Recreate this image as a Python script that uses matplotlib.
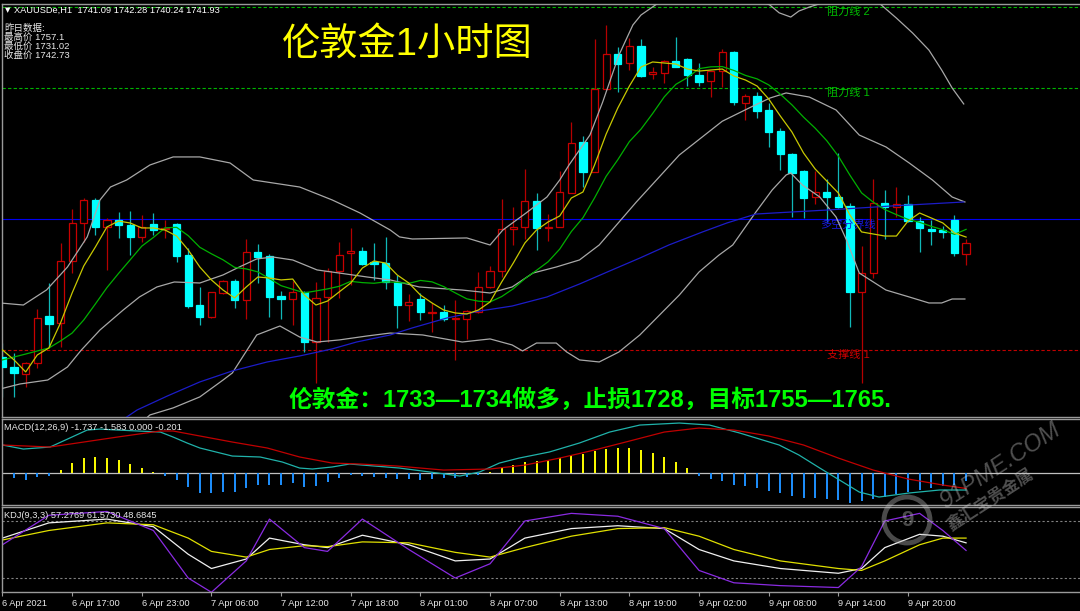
import matplotlib
matplotlib.use("Agg")
import matplotlib.pyplot as plt
from matplotlib.patches import Rectangle, Ellipse

plt.rcParams['font.family'] = ['Liberation Sans', 'Noto Sans CJK SC', 'DejaVu Sans']

# ---- price data (XAUUSD H1, 84 bars) ----
opens = [1733.03, 1732.25, 1731.70, 1732.56, 1736.23, 1735.69, 1740.53, 1743.50, 1745.30, 1743.19,
         1743.73, 1743.34, 1742.41, 1743.42, 1743.03, 1743.42, 1741.00, 1737.09, 1736.16, 1738.03,
         1738.97, 1737.48, 1741.23, 1740.92, 1737.80, 1737.56, 1738.11, 1734.20, 1737.72, 1739.75,
         1741.16, 1741.31, 1740.45, 1740.38, 1738.89, 1737.09, 1737.56, 1736.47, 1736.55, 1736.00,
         1736.00, 1736.55, 1738.50, 1739.75, 1743.03, 1743.19, 1745.22, 1743.11, 1743.19, 1745.84,
         1749.83, 1747.48, 1753.97, 1756.70, 1756.00, 1757.33, 1755.14, 1755.22, 1756.16, 1756.31,
         1755.06, 1754.59, 1755.38, 1756.86, 1752.88, 1753.42, 1752.33, 1750.69, 1748.89, 1747.56,
         1745.53, 1745.92, 1745.53, 1744.83, 1738.11, 1739.59, 1745.06, 1744.75, 1744.98, 1743.66,
         1743.03, 1742.95, 1743.73, 1741.09]
highs = [1734.13, 1733.34, 1732.64, 1736.78, 1738.81, 1741.94, 1744.59, 1745.45, 1745.45, 1743.89,
         1744.36, 1744.44, 1744.13, 1744.28, 1743.73, 1743.50, 1741.55, 1738.50, 1738.11, 1739.05,
         1739.13, 1742.25, 1741.86, 1741.08, 1738.19, 1738.97, 1738.20, 1738.89, 1739.98, 1742.02,
         1743.11, 1741.63, 1741.94, 1742.41, 1739.44, 1737.95, 1738.03, 1737.25, 1737.09, 1737.48,
         1736.70, 1739.67, 1740.14, 1745.38, 1744.75, 1747.72, 1745.84, 1744.20, 1747.56, 1751.39,
         1750.30, 1757.88, 1758.97, 1757.25, 1757.95, 1757.88, 1755.69, 1756.23, 1758.03, 1756.40,
         1756.00, 1755.38, 1757.10, 1756.95, 1753.58, 1753.73, 1752.88, 1750.92, 1748.97, 1747.64,
         1747.56, 1746.94, 1748.97, 1745.06, 1741.70, 1746.94, 1746.08, 1746.31, 1745.69, 1743.97,
         1743.73, 1743.27, 1744.13, 1742.28]
lows = [1729.91, 1729.91, 1730.69, 1732.17, 1733.81, 1733.81, 1739.59, 1742.02, 1742.56, 1739.83,
        1742.33, 1741.00, 1742.02, 1742.56, 1742.33, 1740.45, 1736.86, 1735.53, 1736.08, 1737.95,
        1736.86, 1736.00, 1738.81, 1736.16, 1736.00, 1735.53, 1733.42, 1731.00, 1734.20, 1737.64,
        1738.66, 1740.22, 1739.05, 1738.34, 1735.30, 1735.84, 1735.92, 1734.98, 1735.84, 1732.80,
        1734.44, 1736.47, 1738.42, 1739.28, 1741.78, 1742.25, 1741.39, 1742.09, 1743.19, 1745.84,
        1746.31, 1747.48, 1753.97, 1753.73, 1755.45, 1754.91, 1754.75, 1754.44, 1755.69, 1754.20,
        1754.20, 1753.34, 1754.13, 1752.72, 1751.55, 1751.70, 1749.44, 1747.64, 1743.97, 1743.89,
        1744.98, 1743.58, 1744.67, 1735.38, 1731.02, 1739.20, 1742.25, 1743.97, 1743.58, 1741.23,
        1741.78, 1742.33, 1740.92, 1740.24]
closes = [1732.25, 1731.78, 1732.56, 1736.08, 1735.61, 1740.53, 1743.50, 1745.30, 1743.19, 1743.73,
          1743.34, 1742.41, 1743.19, 1742.95, 1743.11, 1740.92, 1737.02, 1736.16, 1738.11, 1738.97,
          1737.48, 1741.23, 1740.84, 1737.72, 1737.56, 1738.11, 1734.20, 1737.64, 1739.75, 1741.00,
          1741.31, 1740.30, 1740.30, 1738.89, 1737.09, 1737.33, 1736.55, 1736.55, 1736.00, 1736.08,
          1736.63, 1738.50, 1739.75, 1743.03, 1743.19, 1745.22, 1743.11, 1743.19, 1745.92, 1749.75,
          1747.48, 1753.97, 1756.70, 1755.92, 1757.33, 1754.98, 1755.30, 1756.16, 1755.69, 1755.06,
          1754.52, 1755.38, 1756.86, 1752.95, 1753.42, 1752.25, 1750.61, 1748.89, 1747.41, 1745.45,
          1745.92, 1745.53, 1744.75, 1738.11, 1739.59, 1745.06, 1744.75, 1744.98, 1743.66, 1743.11,
          1742.88, 1742.80, 1741.16, 1741.93]

# moving averages
ma_fast = [1733.58, 1732.80, 1731.86, 1733.19, 1733.73, 1735.69, 1738.03, 1740.14, 1741.62, 1743.19,
           1743.65, 1743.50, 1743.11, 1743.11, 1742.95, 1742.48, 1741.39, 1740.06, 1739.05, 1738.26,
           1737.64, 1738.50, 1739.28, 1739.20, 1739.05, 1739.12, 1737.87, 1737.09, 1737.40, 1738.11,
           1738.81, 1739.98, 1740.53, 1740.37, 1739.44, 1738.81, 1737.87, 1737.25, 1736.70, 1736.47,
           1736.39, 1736.70, 1737.33, 1738.89, 1740.37, 1741.94, 1742.95, 1743.58, 1744.05, 1745.45,
           1745.92, 1748.03, 1750.45, 1752.48, 1754.20, 1755.69, 1756.08, 1756.00, 1755.92, 1755.53,
           1755.37, 1755.45, 1755.53, 1754.98, 1754.67, 1754.20, 1753.19, 1751.86, 1750.61, 1748.97,
           1747.72, 1746.78, 1745.84, 1744.12, 1742.80, 1742.64, 1742.48, 1742.48, 1743.65, 1744.28,
           1743.89, 1743.50, 1742.72, 1742.40]
ma_slow = [1732.80, 1733.03, 1733.26, 1733.50, 1733.73, 1734.28, 1734.90, 1735.92, 1737.17, 1738.45,
           1739.56, 1740.62, 1741.69, 1742.37, 1743.12, 1743.16, 1742.51, 1741.60, 1741.09, 1740.62,
           1740.03, 1739.91, 1739.68, 1739.15, 1738.60, 1738.32, 1738.04, 1738.19, 1738.35, 1738.55,
           1738.94, 1738.84, 1738.79, 1738.90, 1738.86, 1738.78, 1739.01, 1738.90, 1738.53, 1738.04,
           1737.57, 1737.39, 1737.33, 1737.75, 1738.36, 1739.15, 1739.80, 1740.47, 1741.46, 1742.83,
           1743.91, 1745.46, 1747.15, 1748.44, 1749.86, 1750.83, 1752.05, 1753.35, 1754.33, 1754.86,
           1755.56, 1755.70, 1755.72, 1755.42, 1755.03, 1754.76, 1754.29, 1753.56, 1752.73, 1751.77,
           1750.91, 1749.93, 1748.72, 1747.23, 1745.85, 1745.13, 1744.55, 1744.15, 1743.78, 1743.55,
           1743.24, 1742.97, 1742.61, 1743.00]

# bollinger bands (sampled along bar index)
bb_mid_x = [-0.2, 1.5, 3.9, 5.6, 6.8, 8.4, 10.4, 11.8, 13.3, 14.8, 17.0, 19.0, 20.4, 21.9, 23.3, 25.0,
            27.1, 29.0, 31.4, 33.4, 35.9, 39.6, 42.0, 43.9, 45.7, 47.7, 49.7, 51.4, 54.6, 58.3, 62.0,
            64.3, 66.1, 67.5, 69.5, 71.8, 73.8, 76.1, 78.1, 80.1, 81.8, 82.9]
bb_mid = [1730.53, 1730.92, 1731.23, 1732.25, 1733.58, 1735.14, 1736.70, 1737.72, 1738.50, 1738.89,
          1738.81, 1739.44, 1740.06, 1740.69, 1740.84, 1740.61, 1739.83, 1739.59, 1739.28, 1739.05,
          1738.50, 1738.26, 1738.03, 1738.50, 1739.59, 1740.06, 1740.61, 1741.78, 1745.14, 1748.81,
          1751.45, 1752.48, 1753.26, 1753.66, 1753.34, 1752.33, 1750.37, 1749.44, 1748.19, 1746.86,
          1745.53, 1745.14]
bb_up_x = [-0.2, 1.8, 3.8, 5.6, 7.3, 8.4, 9.3, 10.7, 12.7, 14.7, 17.0, 19.6, 21.6, 25.6, 28.4, 30.8,
           33.4, 34.2, 35.3, 40.0, 42.0, 43.1, 45.1, 46.9, 48.0, 48.8, 50.6, 51.7, 53.1, 54.3, 55.0,
           56.6, 60.0, 63.5, 66.1, 66.9, 67.9, 68.6, 69.5, 70.6, 72.9, 75.5, 77.0, 78.4, 79.8, 80.9,
           81.8, 82.8]
bb_up = [1737.25, 1737.09, 1738.27, 1740.06, 1742.41, 1745.30, 1746.31, 1746.86, 1748.03, 1748.66,
         1748.66, 1748.19, 1746.86, 1746.31, 1745.30, 1744.28, 1742.95, 1742.41, 1742.25, 1742.33,
         1741.78, 1742.95, 1744.28, 1745.53, 1746.86, 1748.03, 1750.37, 1752.95, 1756.62, 1758.97,
         1759.75, 1760.76, 1761.31, 1761.55, 1760.53, 1759.92, 1759.59, 1760.06, 1760.37, 1760.69,
         1761.15, 1760.69, 1759.51, 1758.34, 1757.01, 1755.45, 1754.05, 1752.80]
bb_low_x = [-0.2, 4.1, 8.4, 10.7, 12.7, 14.7, 17.0, 19.0, 19.8, 21.9, 23.9, 25.6, 27.1, 29.0, 31.4,
            33.4, 36.2, 39.6, 42.0, 43.9, 44.8, 46.0, 47.7, 48.6, 49.7, 51.4, 53.1, 54.9, 56.6, 58.3,
            60.0, 61.7, 62.9, 64.9, 66.3, 67.5, 67.9, 68.9, 70.4, 71.8, 72.7, 73.8, 76.1, 78.1, 79.8,
            80.9, 81.8, 82.9]
bb_low = [1723.81, 1724.83, 1724.98, 1726.86, 1728.50, 1729.05, 1729.91, 1731.23, 1731.78, 1734.75,
          1735.45, 1734.59, 1734.20, 1734.36, 1734.67, 1734.90, 1734.75, 1734.20, 1734.44, 1733.97,
          1733.50, 1734.12, 1734.12, 1733.42, 1732.80, 1732.64, 1733.42, 1734.75, 1736.31, 1737.87,
          1739.67, 1740.98, 1741.78, 1744.36, 1746.08, 1747.25, 1747.41, 1746.47, 1745.53, 1743.97,
          1742.17, 1739.59, 1738.26, 1737.72, 1737.25, 1737.25, 1737.56, 1737.56]

# long moving average (blue)
ma_long_x = [9.3, 11.6, 14.2, 17.0, 19.8, 22.8, 25.6, 28.4, 30.5, 33.4, 35.3, 38.3, 41.1, 43.9, 46.9,
             49.7, 52.3, 54.9, 57.4, 60.3, 62.4, 64.9, 68.0, 71.0, 73.8, 76.6, 79.6, 82.8]
ma_long = [1727.48, 1728.89, 1729.98, 1731.08, 1731.94, 1732.64, 1733.11, 1733.66, 1734.20, 1734.75,
           1735.30, 1736.08, 1736.62, 1737.01, 1737.72, 1738.73, 1739.75, 1740.76, 1741.78, 1742.80,
           1743.50, 1744.20, 1744.36, 1744.51, 1744.67, 1744.83, 1744.98, 1745.14]

# horizontal levels
resist_2 = 1760.38
resist_1 = 1754.05
bull_bear_line = 1743.81
support_1 = 1733.58

# MACD(12,26,9)
macd_hist = [-0.49, -0.52, -0.70, -0.42, -0.28, 0.34, 1.04, 1.63, 1.70, 1.63,
             1.39, 0.94, 0.58, 0.17, -0.28, -0.70, -1.40, -2.02, -2.08, -1.98,
             -1.98, -1.50, -1.22, -1.22, -1.22, -1.04, -1.40, -1.29, -0.88, -0.52,
             -0.18, -0.30, -0.39, -0.45, -0.55, -0.62, -0.66, -0.60, -0.52, -0.45,
             -0.35, -0.20, 0.14, 0.55, 0.86, 1.18, 1.28, 1.39, 1.59, 1.91,
             2.01, 2.32, 2.53, 2.64, 2.64, 2.43, 2.11, 1.70, 1.18, 0.55,
             -0.28, -0.59, -0.80, -1.22, -1.32, -1.53, -1.84, -2.05, -2.36, -2.57,
             -2.57, -2.68, -2.78, -3.09, -2.89, -2.68, -2.47, -2.16, -1.95, -1.74,
             -1.53, -1.32, -1.22, -0.80]
dif_x = [0, 1.8, 4.1, 5.8, 7.3, 8.4, 9.9, 13.6, 14.7, 15.9, 17.0, 19.8, 22.2, 24.1, 25.6, 26.7, 28.4,
         29.9, 34.2, 36.8, 39.4, 41.1, 42.8, 44.5, 47.1, 49.7, 52.3, 54.9, 58.3, 60.9, 63.5, 66.9,
         68.6, 70.4, 72.1, 73.8, 75.5, 78.1, 80.7, 83]
dif = [2.95, 2.53, 2.74, 3.68, 4.51, 4.61, 4.51, 4.30, 3.78, 3.16, 2.64, 1.80, 1.70, 1.18, 0.55, 0.45,
       0.66, 0.97, 0.55, 0.14, -0.28, 0.14, 1.07, 1.59, 2.22, 3.16, 4.30, 5.03, 5.24, 5.03, 4.20, 2.95,
       1.91, 0.55, -0.70, -1.95, -2.47, -2.05, -1.74, -1.74]
dea_x = [0, 4.1, 7, 9.9, 13.6, 14.7, 17, 19.8, 22.8, 25.6, 28.4, 30.8, 34, 38, 42, 45, 48, 51, 54, 57,
         60, 63, 66, 69, 72, 75, 78, 81, 83]
dea = [2.95, 2.74, 3.26, 3.78, 4.41, 4.41, 3.89, 3.26, 2.64, 1.70, 1.07, 0.97, 0.76, 0.34, 0.45, 0.86,
       1.59, 2.43, 3.36, 4.30, 4.72, 4.51, 3.89, 2.95, 1.59, 0.34, -0.59, -1.22, -1.58]

# KDJ(9,3,3)
kdj_x = [0, 4, 9, 13, 16, 18, 21, 23, 26, 28, 31, 35, 39, 42, 45, 49, 53, 57, 60, 63, 67, 72, 74, 76,
         79, 81, 83]
kdj_k = [62, 78, 82, 74, 45, 30, 40, 62, 55, 52, 65, 55, 38, 40, 62, 72, 75, 72, 50, 38, 30, 25, 30,
         52, 66, 64, 57]
kdj_d = [60, 70, 78, 76, 62, 48, 42, 50, 54, 53, 58, 57, 47, 42, 52, 64, 72, 73, 64, 50, 38, 30, 28,
         38, 55, 62, 62]
kdj_j = [55, 86, 90, 70, 20, 5, 38, 82, 52, 48, 82, 50, 20, 35, 80, 88, 85, 72, 28, 15, 12, 10, 32,
         80, 88, 70, 49]

tick_bars = [0, 6, 12, 18, 24, 30, 36, 42, 48, 54, 60, 66, 72, 78]
tick_labels = ['6 Apr 2021', '6 Apr 17:00', '6 Apr 23:00', '7 Apr 06:00', '7 Apr 12:00',
               '7 Apr 18:00', '8 Apr 01:00', '8 Apr 07:00', '8 Apr 13:00', '8 Apr 19:00',
               '9 Apr 02:00', '9 Apr 08:00', '9 Apr 14:00', '9 Apr 20:00']

W, H = 1080, 611
fig = plt.figure(figsize=(W / 100, H / 100), dpi=100, facecolor='black')


def panel(left, top, right, bottom):
    ax = fig.add_axes([left / W, 1 - bottom / H, (right - left) / W, (bottom - top) / H])
    ax.set_facecolor('black')
    for s in ax.spines.values():
        s.set_color('#9a9a9a')
        s.set_linewidth(1.0)
    ax.spines['right'].set_visible(False)
    ax.set_xlim(-0.04, 92.9)
    ax.tick_params(left=False, labelleft=False, bottom=False, labelbottom=False)
    return ax


def ftext(x, y, s, **kw):
    fig.text(x / W, 1 - y / H, s, **kw)


# ---- main price panel ----
ax = panel(2, 4, 1081, 417)
ax.set_ylim(1728.34, 1760.61)

up_col, dn_col = '#c80000', '#00ffff'
for i in range(len(opens)):
    o, h, l, c = opens[i], highs[i], lows[i], closes[i]
    if c >= o:
        ax.vlines(i, l, h, color='#b40000', lw=0.9, zorder=2)
        ax.add_patch(Rectangle((i - 0.31, o), 0.62, c - o, facecolor='black',
                               edgecolor=up_col, lw=0.9, zorder=3))
    else:
        ax.vlines(i, l, h, color='#10b8b8', lw=0.9, zorder=2)
        ax.add_patch(Rectangle((i - 0.31, c), 0.62, o - c, facecolor=dn_col,
                               edgecolor=dn_col, lw=0.9, zorder=3))

bars = list(range(len(opens)))
ax.plot(bb_up_x, bb_up, color='#a8a8a8', lw=0.9, zorder=4)
ax.plot(bb_mid_x, bb_mid, color='#a8a8a8', lw=0.9, zorder=4)
ax.plot(bb_low_x, bb_low, color='#a8a8a8', lw=0.9, zorder=4)
ax.plot(ma_long_x, ma_long, color='#1c1cc8', lw=0.9, zorder=4)
ax.plot(bars, ma_slow, color='#00b000', lw=0.9, zorder=5)
ax.plot(bars, ma_fast, color='#c8c800', lw=0.9, zorder=6)

ax.axhline(resist_2, color='#00b400', lw=0.8, ls=(0, (3, 2)), zorder=1)
ax.axhline(resist_1, color='#00b400', lw=0.8, ls=(0, (3, 2)), zorder=1)
ax.axhline(support_1, color='#c00000', lw=0.8, ls=(0, (3, 2)), zorder=1)
ax.axhline(bull_bear_line, color='#0000f0', lw=0.8, zorder=1)

ax.text(71.0, resist_2, '阻力线 2', color='#00c000', fontsize=8, va='top', ha='left')
ax.text(71.0, resist_1, '阻力线 1', color='#00c000', fontsize=8, va='top', ha='left')
ax.text(71.0, support_1, '支撑线 1', color='#d00000', fontsize=8, va='top', ha='left')
ax.text(70.4, bull_bear_line, '多空分界线', color='#1818e0', fontsize=8, va='top', ha='left')

# ---- MACD panel ----
ax2 = panel(2, 419, 1081, 505)
ax2.set_ylim(-3.30, 5.66)
ax2.axhline(0, color='#c0c0c0', lw=0.9)
for i, v in enumerate(macd_hist):
    ax2.vlines(i, 0, v, color='#ffff00' if v > 0 else '#1e90ff', lw=1.4)
ax2.plot(dif_x, dif, color='#20b2aa', lw=0.9)
ax2.plot(dea_x, dea, color='#c00000', lw=0.9)

# ---- KDJ panel ----
ax3 = panel(2, 507, 1081, 592)
ax3.set_ylim(5.3, 94.7)
ax3.axhline(80, color='#808080', lw=0.8, ls=(0, (2, 2)))
ax3.axhline(20, color='#808080', lw=0.8, ls=(0, (2, 2)))
ax3.plot(kdj_x, kdj_k, color='#f0f0f0', lw=0.9)
ax3.plot(kdj_x, kdj_d, color='#e0e000', lw=0.9)
ax3.plot(kdj_x, kdj_j, color='#8a2be2', lw=0.9)
ax3.set_xticks(tick_bars, tick_labels)
ax3.tick_params(bottom=True, labelbottom=True, direction='out', length=3, width=0.8,
                color='#9a9a9a', labelcolor='#e8e8e8', labelsize=6.7, pad=2)
for lab in ax3.get_xticklabels():
    lab.set_ha('left')

# ---- texts ----
ftext(5, 10, '▼', color='white', fontsize=5, family='DejaVu Sans', va='center')
ftext(14, 10, 'XAUUSDe,H1  1741.09 1742.28 1740.24 1741.93', color='white', fontsize=6.7, va='center')
ftext(4, 28, '昨日数据:', color='#e8e8e8', fontsize=6.8, va='center')
ftext(4, 37, '最高价 1757.1', color='#e8e8e8', fontsize=6.8, va='center')
ftext(4, 46, '最低价 1731.02', color='#e8e8e8', fontsize=6.8, va='center')
ftext(4, 55, '收盘价 1742.73', color='#e8e8e8', fontsize=6.8, va='center')
ftext(282, 45, '伦敦金1小时图', color='#ffff00', fontsize=27.5, va='center')
ftext(289, 400, '伦敦金：1733—1734做多，止损1728，目标1755—1765.', color='#00ff00',
      fontsize=17.1, weight='bold', va='center')
ftext(4, 428, 'MACD(12,26,9) -1.737 -1.583 0.000 -0.201', color='#e8e8e8', fontsize=6.7, va='center')
ftext(4, 516, 'KDJ(9,3,3) 57.2769 61.5730 48.6845', color='#e8e8e8', fontsize=6.7, va='center')

# watermark
fig.add_artist(Ellipse((907 / W, 1 - 520 / H), 46 / W, 46 / H, transform=fig.transFigure,
                       facecolor='none', edgecolor='#bbbbbb', lw=3.5, alpha=0.4))
ftext(907, 520, '9', color='#bbbbbb', fontsize=16, weight='bold', alpha=0.4, ha='center', va='center')
ftext(1000, 466, '91PME.COM', color='#c8c8c8', fontsize=17, rotation=33, style='italic',
      alpha=0.4, ha='center', va='center')
ftext(990, 500, '鑫汇宝贵金属', color='#c8c8c8', fontsize=12, rotation=33, weight='bold',
      alpha=0.4, ha='center', va='center')

fig.savefig('out.png', dpi=100, facecolor='black')
